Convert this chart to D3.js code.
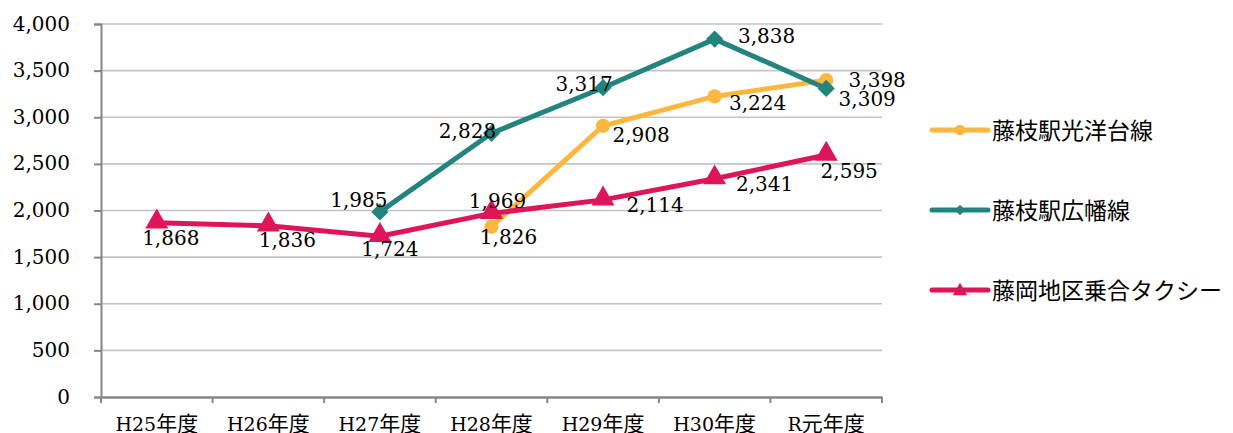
<!DOCTYPE html>
<html>
<head>
<meta charset="utf-8">
<script src="https://cdn.jsdelivr.net/npm/d3@7"></script>
<style>
  html, body { margin: 0; padding: 0; background: #fff; }
  svg { display: block; }
</style>
</head>
<body>
<div id="chart"></div>
<script>
// 年度（カテゴリ）
const categories = ['H25年度', 'H26年度', 'H27年度', 'H28年度', 'H29年度', 'H30年度', 'R元年度'];
const yTicks = [0, 500, 1000, 1500, 2000, 2500, 3000, 3500, 4000];

// 利用者数（null = 運行なし）
const koyodai = [null, null, null, 1826, 2908, 3224, 3398];
const hirohata = [null, null, 1985, 2828, 3317, 3838, 3309];
const fujiokaTaxi = [1868, 1836, 1724, 1969, 2114, 2341, 2595];

const seriesNames = ['藤枝駅光洋台線', '藤枝駅広幡線', '藤岡地区乗合タクシー'];

// ラベル位置のずれ（点からの dx, dy）
const labelOffsets = [
  [null, null, null, [17, 17], [38, 16], [43, 14], [51, 7]],
  [null, null, [-21, -5], [-24, 5], [-19, 3], [52, 4], [41, 18]],
  [[14, 22], [19, 21], [10, 20], [6, -5], [52, 12], [50, 12], [23, 23]]
];

const W = 1233, H = 433;
const margin = { left: 101, right: W - 882, top: 24, bottom: H - 397 };

const svg = d3.select('#chart').append('svg')
  .attr('width', W).attr('height', H);

const x = d3.scaleBand().domain(categories)
  .range([margin.left, W - margin.right]);
const y = d3.scaleLinear().domain([0, 4000])
  .range([H - margin.bottom, margin.top]);

const serif = '"DejaVu Serif", "Liberation Serif", serif';
const cjk = '"Noto Sans CJK JP", sans-serif';

// グリッド線
svg.append('g')
  .selectAll('line')
  .data(yTicks.filter(d => d > 0))
  .join('line')
  .attr('x1', margin.left).attr('x2', W - margin.right)
  .attr('y1', d => y(d)).attr('y2', d => y(d))
  .attr('stroke', '#c4c4c4').attr('stroke-width', 1.6);

// Y軸
const yAxis = svg.append('g')
  .attr('transform', `translate(${margin.left},0)`)
  .call(d3.axisLeft(y).tickValues(yTicks).tickSize(7).tickPadding(24)
    .tickFormat(d3.format(',')));
yAxis.select('.domain').attr('stroke', '#868686').attr('stroke-width', 2);
yAxis.selectAll('.tick line').attr('stroke', '#868686').attr('stroke-width', 2);
yAxis.selectAll('.tick text')
  .attr('fill', '#000')
  .style('font-family', serif)
  .style('font-size', '20px')
  .attr('dy', '0.3em');

// X軸
const xAxis = svg.append('g')
  .attr('transform', `translate(0,${H - margin.bottom})`)
  .call(d3.axisBottom(x).tickSize(0).tickFormat(''));
xAxis.select('.domain').attr('stroke', '#868686').attr('stroke-width', 2.5);

// 区切り目盛り
svg.append('g')
  .selectAll('line')
  .data(categories.concat(['__end']))
  .join('line')
  .attr('x1', (d, i) => i < categories.length ? x(d) : x(categories[categories.length - 1]) + x.bandwidth())
  .attr('x2', (d, i) => i < categories.length ? x(d) : x(categories[categories.length - 1]) + x.bandwidth())
  .attr('y1', H - margin.bottom).attr('y2', H - margin.bottom + 6)
  .attr('stroke', '#868686').attr('stroke-width', 2);

// カテゴリラベル
const catLabel = svg.append('g')
  .selectAll('text')
  .data(categories)
  .join('text')
  .attr('x', d => x(d) + x.bandwidth() / 2)
  .attr('y', 431)
  .attr('text-anchor', 'middle')
  .attr('fill', '#000');
catLabel.each(function (d) {
  const m = d.match(/^([A-Za-z0-9]+)(.*)$/);
  const t = d3.select(this);
  t.append('tspan').style('font-family', serif).style('font-size', '19px').text(m[1]);
  t.append('tspan').style('font-family', cjk).style('font-size', '21px').text(m[2]);
});

const colors = ['#FDB73F', '#23847D', '#DE1559'];
const allData = [koyodai, hirohata, fujiokaTaxi];
const cx = i => x(categories[i]) + x.bandwidth() / 2;

const line = d3.line()
  .defined(d => d.v != null)
  .x(d => cx(d.i))
  .y(d => y(d.v));

const symbols = [d3.symbolCircle, d3.symbolDiamond2, d3.symbolTriangle];
const symSize = [160, 190, 230];

allData.forEach((vals, s) => {
  const pts = vals.map((v, i) => ({ v, i }));
  const g = svg.append('g');
  g.append('path')
    .datum(pts)
    .attr('d', line)
    .attr('fill', 'none')
    .attr('stroke', colors[s])
    .attr('stroke-width', 5)
    .attr('stroke-linejoin', 'round');
  g.selectAll('path.mk')
    .data(pts.filter(d => d.v != null))
    .join('path')
    .attr('class', 'mk')
    .attr('d', d3.symbol().type(symbols[s]).size(symSize[s]))
    .attr('transform', d => `translate(${cx(d.i)},${y(d.v) + (s === 2 ? -1 : 0)})`)
    .attr('fill', colors[s]);
});

// データラベル
allData.forEach((vals, s) => {
  svg.append('g')
    .selectAll('text')
    .data(vals.map((v, i) => ({ v, i })).filter(d => d.v != null))
    .join('text')
    .attr('x', d => cx(d.i) + labelOffsets[s][d.i][0])
    .attr('y', d => y(d.v) + labelOffsets[s][d.i][1])
    .attr('text-anchor', 'middle')
    .attr('fill', '#000')
    .style('font-family', serif)
    .style('font-size', '20px')
    .text(d => d3.format(',')(d.v));
});

// 凡例
const legend = svg.append('g')
  .selectAll('g')
  .data(seriesNames)
  .join('g')
  .attr('transform', (d, i) => `translate(932,${130 + i * 80})`);
legend.append('line')
  .attr('x1', 0).attr('x2', 56)
  .attr('stroke', (d, i) => colors[i])
  .attr('stroke-width', 5)
  .attr('stroke-linecap', 'round');
legend.append('path')
  .attr('d', (d, i) => d3.symbol().type(symbols[i]).size([90, 70, 90][i])())
  .attr('transform', (d, i) => `translate(28,${i === 2 ? 1 : 0})`)
  .attr('fill', (d, i) => colors[i]);
legend.append('text')
  .attr('x', 60)
  .attr('y', 9)
  .attr('fill', '#000')
  .style('font-family', cjk)
  .style('font-size', '23px')
  .text(d => d);
</script>
</body>
</html>
